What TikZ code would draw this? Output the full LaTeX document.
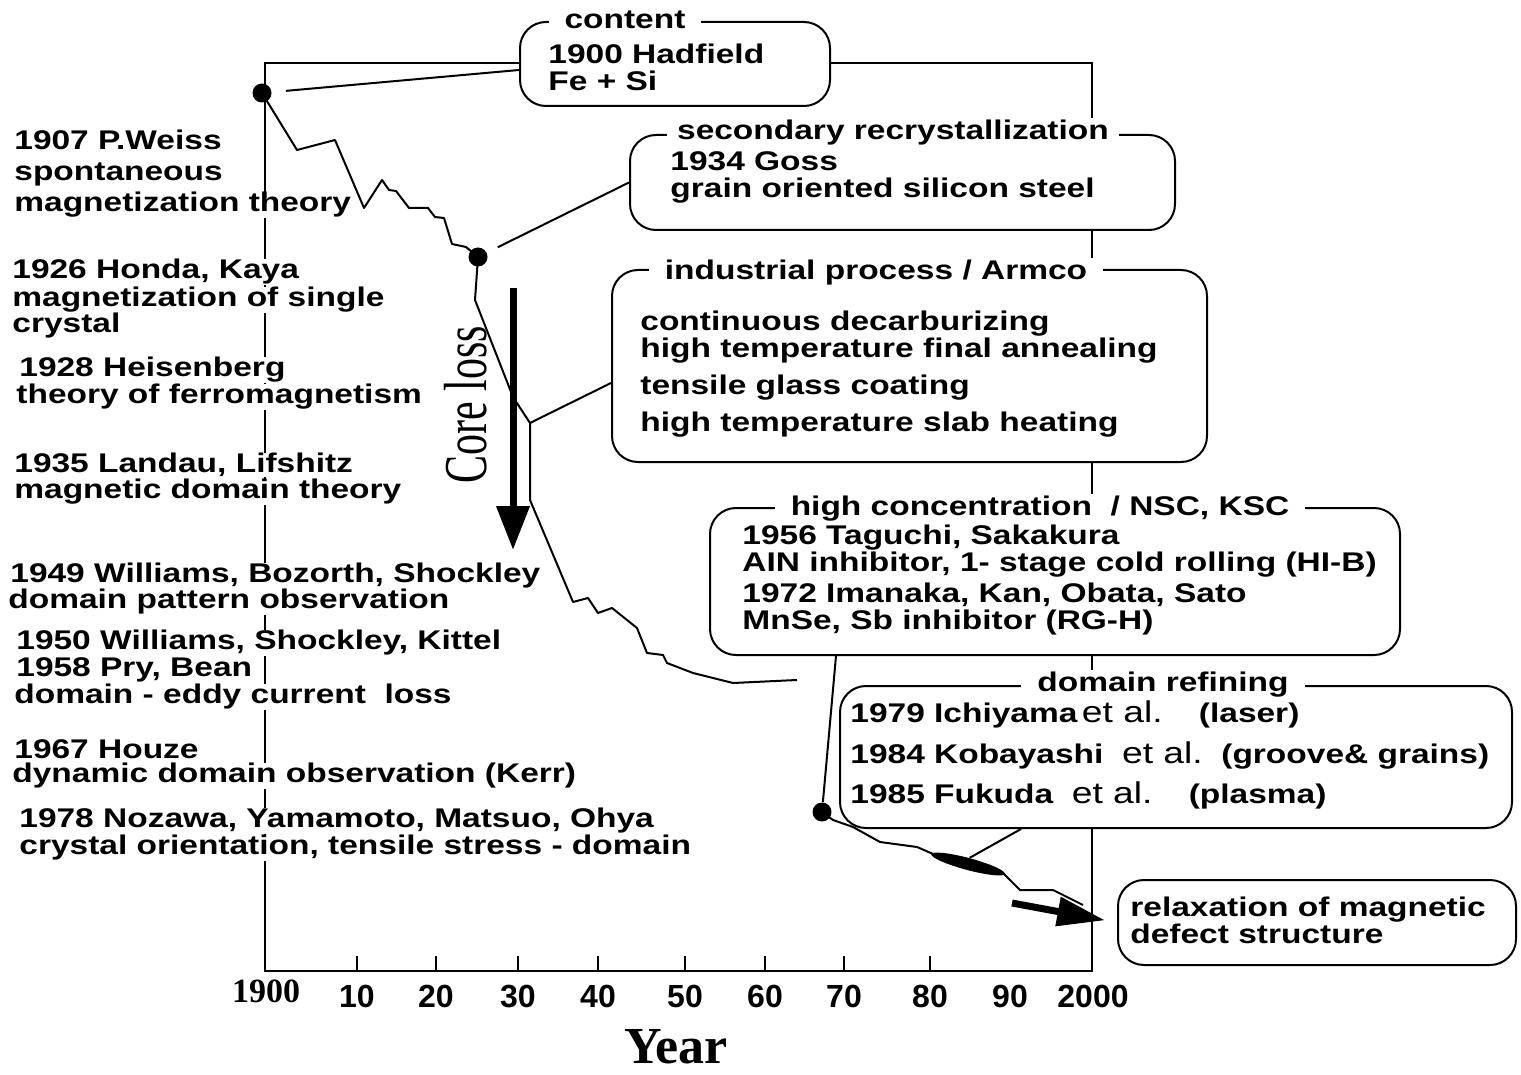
\documentclass[tikz,border=0pt]{standalone}
\usepackage{fontspec}
\usepackage{graphicx}
\setmainfont{Liberation Sans}[FakeStretch=1.24]
\newfontfamily\numfont{Liberation Sans}
\newfontfamily\timesfont{Liberation Serif}
\usetikzlibrary{arrows.meta,shapes.geometric}

\newcommand{\etal}{{\mdseries\fontsize{15}{15}\selectfont et al.}}

\tikzset{
  txt/.style={font=\bfseries\fontsize{13.5}{13.5}\selectfont},
  lefttxt/.style={txt, anchor=west, fill=white, inner xsep=1pt, inner ysep=0pt},
  stage/.style={draw, line width=1pt, rounded corners=13pt, fill=white, inner sep=0pt},
  body/.style={txt, anchor=west, align=left, inner sep=0pt},
  stagetitle/.style={txt, fill=white, inner xsep=5pt, inner ysep=1pt},
  frame/.style={line width=1pt},
  tick/.style={font=\numfont\bfseries\fontsize{16}{16}\selectfont},
  dot/.style={circle, fill, inner sep=0pt, minimum size=9.5pt},
  curve/.style={line width=1pt, line join=round},
  link/.style={line width=1pt},
  lossarrow/.style={line width=3.5pt, -{Triangle[length=22pt,width=16pt]}},
  trendarrow/.style={line width=3.5pt, -{Triangle[length=24pt,width=14pt]}},
}

\begin{document}
\begin{tikzpicture}[x=0.5pt, y=-0.5pt]
\useasboundingbox (0,0) rectangle (1521,1075);

% axes
\coordinate (O) at (265,971);
\coordinate (E) at (1092,63);
\draw[frame] (O) rectangle (E);
\foreach \x/\l in {357/10,436/20,518/30,598/40,685/50,765/60,844/70,930/80} {
  \draw[frame] (\x,971) -- (\x,956);
  \node[tick] (t\l) at (\x,996) {\l};
}
\node[tick] (t90) at (1010,996) {90};
\node[tick] (t100) at (1093,996) {2000};
\node[font=\timesfont\bfseries\fontsize{17}{17}\selectfont] (t0) at (266,991) {1900};
\node[font=\timesfont\bfseries\fontsize{26}{26}\selectfont, inner sep=0pt] (year) at (676,1047) {Year};

% stages
\node[stage, minimum width=155pt, minimum height=42pt] (cont) at (675,64) {};
\node[body] (contT) at (548,67) {1900 Hadfield\\Fe + Si};
\node[stagetitle, inner xsep=8pt] (contH) at (625,20) {content};

\node[stage, minimum width=272.5pt, minimum height=47.5pt] (sec) at (902.5,182.5) {};
\node[body] (secT) at (670,177) {1934 Goss\\grain oriented silicon steel};
\node[stagetitle] (secH) at (893,133) {secondary recrystallization};

\node[stage, minimum width=297.5pt, minimum height=96pt] (ind) at (909.5,366) {};
\node[body] (indT) at (640,374) {continuous decarburizing\\high temperature final annealing\\[5pt]tensile glass coating\\[5pt]high temperature slab heating};
\node[stagetitle, inner xsep=8pt] (indH) at (876,273) {industrial process / Armco};

\node[stage, minimum width=345pt, minimum height=73.5pt] (hc) at (1055,581.5) {};
\node[body] (hcT) at (742,580) {1956 Taguchi, Sakakura\\AIN inhibitor, 1- stage cold rolling (HI-B)\\[2pt]1972 Imanaka, Kan, Obata, Sato\\MnSe, Sb inhibitor (RG-H)};
\node[stagetitle, inner xsep=8pt] (hcH) at (1040,509) {high concentration\ \ / NSC, KSC};

\node[stage, minimum width=336pt, minimum height=71pt] (dr) at (1176,757) {};
\node[body] (drT) at (850,755) {1979 Ichiyama\,\etal\quad\ (laser)\\[5.5pt]1984 Kobayashi\ \ \etal\ \ (groove\& grains)\\[5.5pt]1985 Fukuda\ \ \etal\quad\ (plasma)};
\node[stagetitle, inner xsep=8pt] (drH) at (1163,685) {domain refining};

\node[stage, minimum width=199pt, minimum height=42.5pt] (rel) at (1317,922.5) {};
\node[body] (relT) at (1130,920) {relaxation of magnetic\\defect structure};

% discoveries
\foreach \x/\y/\t [count=\i] in {
  12/140/{1907 P.Weiss}, 12/174/{spontaneous}, 12/205/{magnetization theory},
  10/272/{1926 Honda, Kaya}, 10/300/{magnetization of single}, 10/326/{crystal},
  17/370/{1928 Heisenberg}, 14/397/{theory of ferromagnetism},
  12/465/{1935 Landau, Lifshitz}, 12/492/{magnetic domain theory},
  8/576/{1949 Williams, Bozorth, Shockley}, 6/602/{domain pattern observation},
  14/643/{1950 Williams, Shockley, Kittel}, 14/670/{1958 Pry, Bean},
  12/697/{domain - eddy current\ \ loss},
  12/749/{1967 Houze}, 10/776/{dynamic domain observation (Kerr)},
  17/821/{1978 Nozawa, Yamamoto, Matsuo, Ohya},
  17/848/{crystal orientation, tensile stress - domain}} {
  \node[lefttxt] (L\i) at (\x,\y) {\t};
}

% core loss curve
\node[dot] (d1) at (262,93) {};
\node[dot] (d2) at (478,257) {};
\node[dot] (d3) at (822,812) {};
\coordinate (c1) at (530,423);
\coordinate (cend) at (797,680);
\coordinate (c3end) at (1083,905);
\draw[curve] (d1.center) -- (297,150) -- (335,140) -- (364,208) -- (382,180)
  -- (389,190) -- (396,191) -- (409,208) -- (428,208) -- (435,217)
  -- (444,218) -- (452,244) -- (466,247) -- (d2.center);
\draw[curve] (d2.center) -- (475,300) -- (513,397) -- (c1) -- (530,500)
  -- (573,602) -- (588,598) -- (598,613) -- (612,608) -- (637,628)
  -- (647,653) -- (663,655) -- (667,663) -- (693,673) -- (733,683) -- (cend);
\draw[curve] (d3.center) -- (833,820) -- (853,827) -- (880,842) -- (917,847)
  -- (940,857) -- (1003,873) -- (1020,890) -- (1053,890) -- (c3end);
\node[ellipse, fill, inner sep=0pt, minimum width=38pt, minimum height=6pt, rotate=-15] (blob) at (968,864) {};

% links to stages
\draw[link, shorten <=12pt] (d1.center) -- ([yshift=-3pt]cont.west);
\draw[link, shorten <=11pt] (d2.center) -- (sec.west);
\draw[link] ([yshift=-8.5pt]ind.west) -- (c1);
\draw[link] ([xshift=63.5pt]hc.south west) -- (d3);
\draw[link] ([xshift=91pt]dr.south west) -- (blob.north);

% arrows
\node[rotate=90, font=\timesfont\fontsize{21}{21}\selectfont] (loss) at (466,405) {\scalebox{1}[1.45]{Core loss}};
\coordinate (la) at (513,288);
\coordinate (lb) at (513,550);
\draw[lossarrow] (la) -- (lb);
\coordinate (ra) at (1012,903);
\draw[trendarrow, shorten >=6pt] (ra) -- (rel.west);
\end{tikzpicture}
\end{document}
